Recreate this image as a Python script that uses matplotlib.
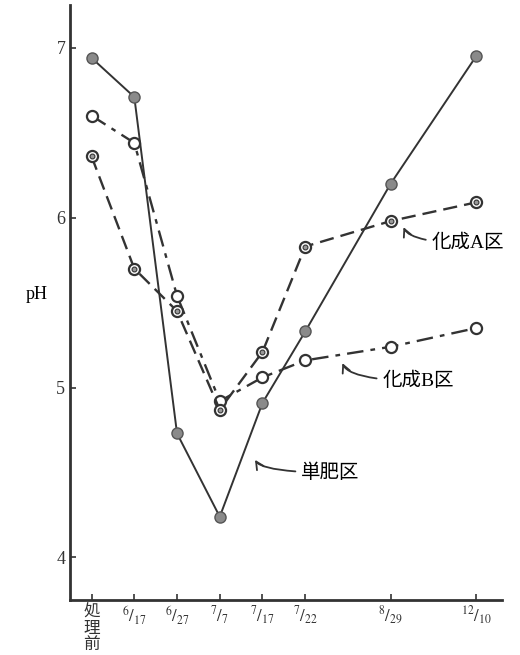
import matplotlib.pyplot as plt

plt.rcParams['font.family'] = ['Liberation Serif', 'Noto Sans CJK JP']
plt.rcParams['mathtext.fontset'] = 'stix'

# sampling dates (x positions follow the original uneven spacing)
dates = ['処\n理\n前', r'$^{6}/_{17}$', r'$^{6}/_{27}$', r'$^{7}/_{7}$',
         r'$^{7}/_{17}$', r'$^{7}/_{22}$', r'$^{8}/_{29}$', r'$^{12}/_{10}$']
xpos = [0, 1, 2, 3, 4, 5, 7, 9]

tanpi = [6.94, 6.71, 4.73, 4.24, 4.91, 5.33, 6.20, 6.95]
kasei_a = [6.36, 5.70, 5.45, 4.87, 5.21, 5.83, 5.98, 6.09]
kasei_b = [6.60, 6.44, 5.54, 4.92, 5.06, 5.16, 5.24, 5.35]

ink = '#333333'

fig = plt.figure(figsize=(5.2, 6.55), dpi=100)
ax = fig.add_axes([0.135, 0.084, 0.83, 0.908])

ax.plot(xpos, tanpi, color=ink, linewidth=1.4, marker='o', markersize=8,
        markerfacecolor='#8a8a8a', markeredgecolor='#555555', zorder=3)

ax.plot(xpos, kasei_b, color=ink, linewidth=1.7, dashes=(7, 3, 2, 3),
        marker='o', markersize=8, markerfacecolor='white',
        markeredgecolor=ink, markeredgewidth=1.6, zorder=4)

ax.plot(xpos, kasei_a, color=ink, linewidth=1.7, dashes=(6, 3),
        marker='o', markersize=8, markerfacecolor='white',
        markeredgecolor=ink, markeredgewidth=1.6, zorder=4)
ax.plot(xpos, kasei_a, linestyle='none', marker='o', markersize=3.5,
        markerfacecolor='#999999', markeredgecolor=ink,
        markeredgewidth=0.8, zorder=5)

# labels with wavy arrows
arrow = dict(arrowstyle='->', color=ink, linewidth=1.3,
             connectionstyle='angle3,angleA=0,angleB=100')
ax.annotate('化成A区', xy=(7.28, 5.96), xytext=(7.95, 5.85),
            fontsize=14, va='center', arrowprops=arrow)
ax.annotate('化成B区', xy=(5.85, 5.16), xytext=(6.8, 5.04),
            fontsize=14, va='center', arrowprops=arrow)
ax.annotate('単肥区', xy=(3.8, 4.59), xytext=(4.9, 4.5),
            fontsize=14, va='center', arrowprops=arrow)

ax.set_xlim(-0.5, 9.6)
ax.set_ylim(3.75, 7.25)
ax.set_yticks([4, 5, 6, 7])
ax.set_xticks(xpos)
ax.set_xticklabels(dates, fontsize=12, linespacing=1.0, va='top')
ax.tick_params(axis='both', direction='in', length=4, width=1.2,
               colors=ink, labelsize=13)
ax.tick_params(axis='x', labelsize=12)
ax.set_ylabel('pH', fontsize=13, rotation=0, labelpad=14)

for s in ['top', 'right']:
    ax.spines[s].set_visible(False)
for s in ['left', 'bottom']:
    ax.spines[s].set_linewidth(2)
    ax.spines[s].set_color(ink)

fig.savefig('out.png', dpi=100)
